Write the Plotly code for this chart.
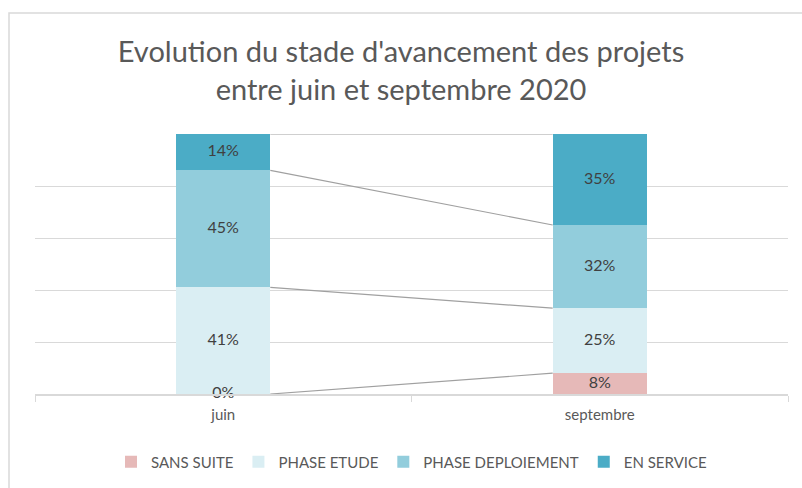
import plotly.graph_objects as go
import numpy as np

categories = ["juin", "septembre"]
series_names = ["SANS SUITE", "PHASE ETUDE", "PHASE DEPLOIEMENT", "EN SERVICE"]
sans_suite = [0.00, 0.08]
phase_etude = [0.41, 0.25]
phase_deploiement = [0.45, 0.32]
en_service = [0.14, 0.35]
colors = ["#E6B9B8", "#DAEEF3", "#92CDDC", "#4BACC6"]

FONT = "Lato, 'Open Sans', sans-serif"
series = [sans_suite, phase_etude, phase_deploiement, en_service]
bar_width = 0.25

fig = go.Figure()
for name, vals, col in zip(series_names, series, colors):
    fig.add_trace(go.Bar(x=categories, y=vals, name=name, marker=dict(color=col, line=dict(width=0)),
                         width=bar_width, hoverinfo="skip"))

# data labels at segment midpoints
arr = np.array(series)
cum = np.cumsum(arr, axis=0)
mids = cum - arr / 2
for i in range(len(series)):
    fig.add_trace(go.Scatter(x=categories, y=mids[i], mode="text",
                             text=[f"{v*100:.0f}%" for v in arr[i]],
                             textfont=dict(family=FONT, size=16, color="#404040"),
                             showlegend=False, hoverinfo="skip", cliponaxis=False))

# series lines connecting segment tops
for i in range(len(series)):
    fig.add_shape(type="line", xref="x", yref="y",
                  x0=0 + bar_width / 2, y0=cum[i][0], x1=1 - bar_width / 2, y1=cum[i][1],
                  line=dict(color="#A0A0A0", width=1.2), layer="above")

PL, PR, PT, PB = 35, 788, 134, 394
PW, PH = PR - PL, PB - PT
# chart outer border
fig.add_shape(type="rect", xref="paper", yref="paper",
              x0=(9 - PL) / PW, x1=(830 - PL) / PW, y0=(PB - 520) / PH, y1=(PB - 13) / PH,
              line=dict(color="#D9D9D9", width=1.5), fillcolor="rgba(0,0,0,0)", layer="below")

fig.update_layout(
    barmode="stack",
    width=802, height=488,
    margin=dict(l=PL, r=802 - PR, t=PT, b=488 - PB, autoexpand=False),
    paper_bgcolor="white", plot_bgcolor="white",
    title=dict(text="Evolution du stade d'avancement des projets<br>entre juin et septembre 2020",
               x=0.5, xanchor="center", y=1 - 62 / 488, yanchor="middle",
               font=dict(family=FONT, size=29, color="#595959")),
    legend=dict(orientation="h", x=0.5, xanchor="center", y=(PB - 462) / PH, yanchor="middle",
                font=dict(family=FONT, size=15, color="#595959"), traceorder="normal"),
    showlegend=True,
)
fig.update_xaxes(type="category", showline=True, linecolor="#D9D9D9", linewidth=1.5,
                 ticks="outside", tickson="boundaries", ticklen=6, tickcolor="#D9D9D9",
                 ticklabelstandoff=6,
                 tickfont=dict(family=FONT, size=15, color="#595959"), showgrid=False)
fig.update_yaxes(range=[0, 1], dtick=0.2, showticklabels=False, gridcolor="#D9D9D9",
                 gridwidth=1.2, zeroline=False, showline=False)

fig.write_html("out.html", config={"displayModeBar": False},
               post_script="document.body.style.margin='0';document.body.style.overflow='hidden';")
